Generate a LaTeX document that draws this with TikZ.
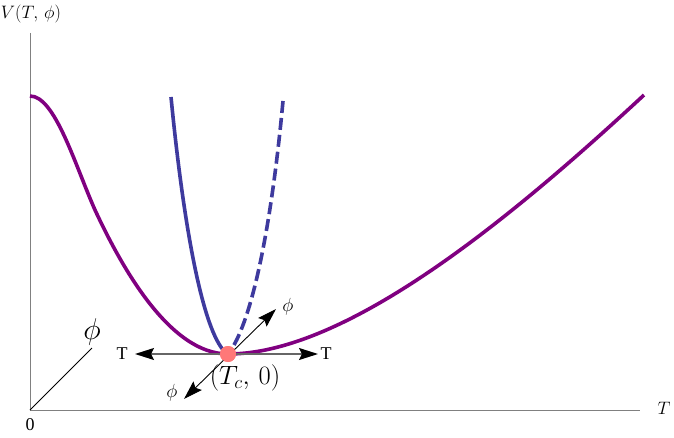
\RequirePackage{fix-cm}
\documentclass[tikz,border=0pt]{standalone}
\usepackage{fontspec}
\setmainfont{Liberation Serif}
\usetikzlibrary{arrows.meta}
\definecolor{vpurple}{RGB}{128,0,128}
\definecolor{vblue}{RGB}{62,58,158}
\definecolor{dotred}{RGB}{255,120,120}
\tikzset{
  axisline/.style={draw=gray, line width=0.9pt},
  curveP/.style={draw=vpurple, line width=3.6pt},
  curveB/.style={draw=vblue, line width=3.6pt},
  dirarrow/.style={line width=1.3pt, {Stealth[length=19pt,width=12pt,inset=3pt,color=black]}-{Stealth[length=19pt,width=12pt,inset=3pt,color=black]}},
  lbl/.style={inner sep=0pt, font=\fontsize{18}{20}\selectfont},
  tlbl/.style={inner sep=0pt, font=\fontsize{18}{20}\selectfont},
  plbl/.style={inner sep=0pt, font=\fontsize{19}{21}\selectfont},
  tclbl/.style={inner sep=0pt, font=\fontsize{26.5}{28}\selectfont},
  biglbl/.style={inner sep=0pt, font=\fontsize{30}{32}\selectfont},
}
\begin{document}
\begin{tikzpicture}[x=1pt,y=-1pt]
\useasboundingbox (0,0) rectangle (674,438);
% axes
\coordinate (O) at (30,410);
\coordinate (Ytop) at (30,33);
\coordinate (Xend) at (640,410);
\draw[axisline] (Ytop) -- (O) -- (Xend);
\node[lbl] (vlab) at (31,14) {$V(T,\,\phi)$};
\node[lbl] (tlab) at (664,408) {$T$};
\node[lbl] (zlab) at (30,425) {0};
% phi axis
\coordinate (phiend) at (92,348);
\draw[line width=0.8pt] (O) -- (phiend);
\node[biglbl] (philab) at (92,332) {$\phi$};
% curves
\draw[curveP] (30,96) .. controls (55,96) and (75,165) .. (95,210)
  .. controls (122,268) and (170,354) .. (228,354)
  .. controls (350,354) and (520,210) .. (644,95);
\draw[curveB] (171,97) .. controls (184,230) and (203,330) .. (225,352);
\draw[curveB, dash pattern=on 12pt off 5pt] (283,101) .. controls (271,230) and (252,318) .. (231,350);
% direction arrows
\node[circle, fill=dotred, minimum size=16pt, inner sep=0pt] (c) at (228,354) {};
\coordinate (tl) at (135,354);
\coordinate (tr) at (318,354);
\coordinate (dr) at (276,309);
\coordinate (dl) at (184,399);
\draw[dirarrow, draw=gray!80!black] (tl) -- (tr);
\draw[dirarrow, line width=0.9pt] (dl) -- (dr);
\node[circle, fill=dotred, minimum size=16pt, inner sep=0pt] at (c) {};
\node[tlbl] (tL) at (122,354) {T};
\node[tlbl] (tR) at (326,354) {T};
\node[plbl] (pR) at (288,307) {$\phi$};
\node[plbl] (pL) at (172,393) {$\phi$};
\node[tclbl] (tc) at (245,378) {$(T_c,\,0)$};
\end{tikzpicture}
\end{document}
